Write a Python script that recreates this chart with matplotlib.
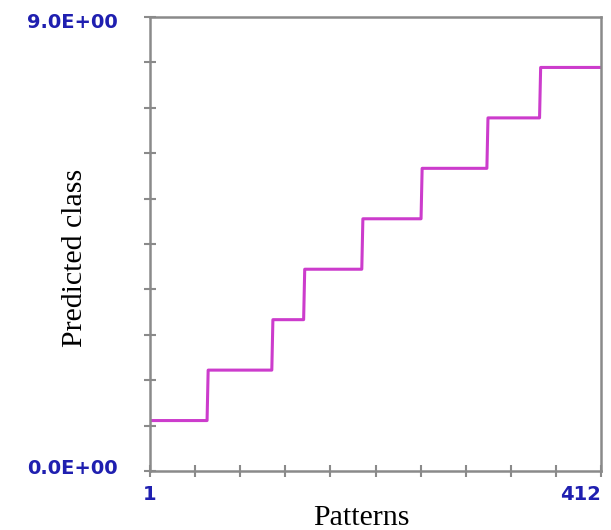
import numpy as np
import matplotlib
matplotlib.use("Agg")
import matplotlib.pyplot as plt
from matplotlib.transforms import ScaledTranslation

# predicted class for each run of patterns
classes = [1, 2, 3, 4, 5, 6, 7, 8]
counts = [53, 59, 29, 53, 54, 60, 48, 56]   # sums to 412

predicted = np.repeat(classes, counts)
patterns = np.arange(1, len(predicted) + 1)

blue = '#1f1fb0'
grey = '#8a8a8a'

fig = plt.figure(figsize=(6.11, 5.30), dpi=100)
ax = fig.add_axes([150/611, 59/530, 451/611, 454/530])

ax.plot(patterns, predicted, color='#cc3ccc', linewidth=2.2)

ax.set_xlim(1, 412)
ax.set_ylim(0, 9)

# ten divisions on each axis, labels only at the ends
ax.set_xticks(np.linspace(1, 412, 11))
ax.set_xticklabels(['1'] + [''] * 9 + ['412'])
ax.set_yticks(np.linspace(0, 9, 11))
ax.set_yticklabels(['0.0E+00'] + [''] * 9 + ['9.0E+00'])

for s in ax.spines.values():
    s.set_color(grey)
    s.set_linewidth(1.8)

ax.tick_params(direction='inout', length=8, width=1.5, color=grey,
               labelcolor=blue)
ax.tick_params(axis='y', pad=19)
ax.tick_params(axis='x', pad=6)
for lab in ax.get_xticklabels() + ax.get_yticklabels():
    lab.set_fontfamily('DejaVu Sans')
    lab.set_fontweight('bold')
    lab.set_fontsize(14)
xl = ax.get_xticklabels()
xl[-1].set_horizontalalignment('right')
yl = ax.get_yticklabels()
yl[0].set_transform(yl[0].get_transform() + ScaledTranslation(0, 5/100, fig.dpi_scale_trans))
yl[-1].set_transform(yl[-1].get_transform() + ScaledTranslation(0, -3/100, fig.dpi_scale_trans))

ax.set_xlabel('Patterns', fontfamily='Liberation Serif', fontsize=21.5)
ax.set_ylabel('Predicted class', fontfamily='Liberation Serif', fontsize=21.5)
ax.xaxis.label.set_va('center')
ax.yaxis.label.set_va('center')
ax.xaxis.set_label_coords(0.468, -0.104)
ax.yaxis.set_label_coords(-0.166, 0.469)

fig.savefig('out.png', dpi=100)
